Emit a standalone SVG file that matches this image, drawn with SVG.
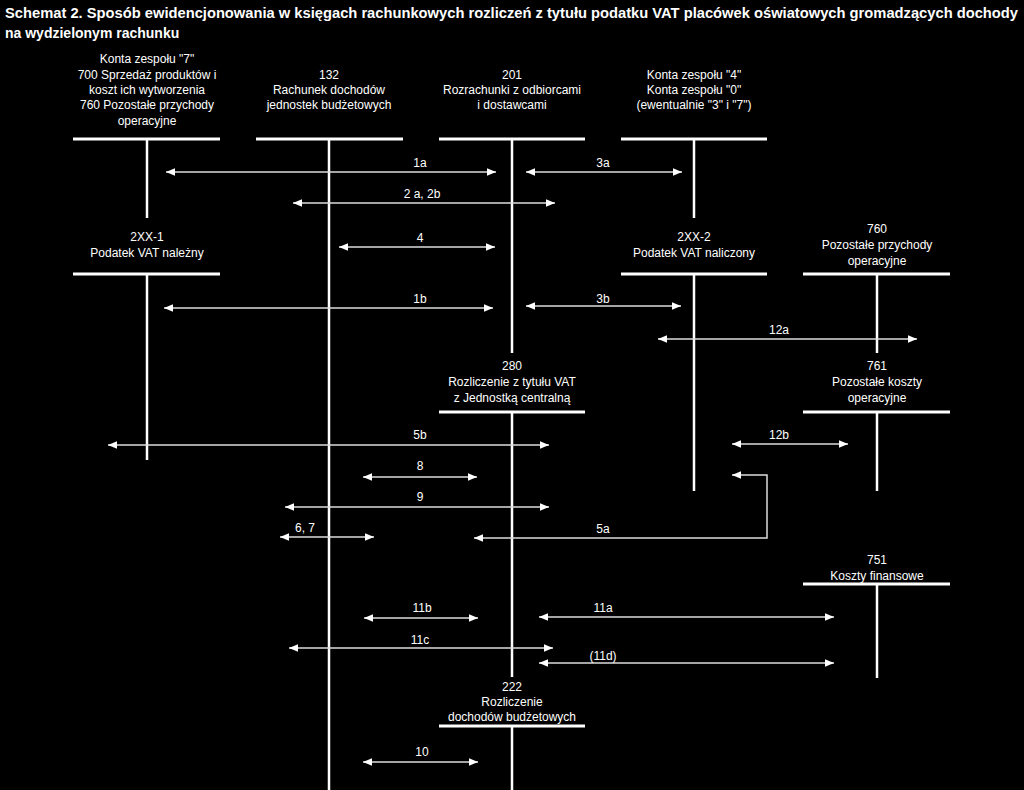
<svg xmlns="http://www.w3.org/2000/svg" width="1024" height="790" viewBox="0 0 1024 790">
<style>
text{font-family:"Liberation Sans",Arial,sans-serif;fill:#fff;font-size:12px;text-anchor:middle}
.title{font-size:14px;font-weight:bold;text-anchor:start}
.hl{stroke:#fff;stroke-width:3;fill:none}
.st{stroke:#fff;stroke-width:2.5;fill:none}
.ar{stroke:#dcdcdc;stroke-width:1.5;fill:none;marker-start:url(#hs);marker-end:url(#he)}
.ar1{stroke:#dcdcdc;stroke-width:1.5;fill:none;marker-end:url(#he)}
.ar0{stroke:#dcdcdc;stroke-width:1.5;fill:none;marker-start:url(#hs)}
</style>
<defs>
<marker id="he" markerUnits="userSpaceOnUse" markerWidth="10" markerHeight="10" refX="9" refY="5" orient="auto"><path d="M0,1.3 L9,5 L0,8.7 Z" fill="#fff"/></marker>
<marker id="hs" markerUnits="userSpaceOnUse" markerWidth="10" markerHeight="10" refX="1" refY="5" orient="auto"><path d="M10,1.3 L1,5 L10,8.7 Z" fill="#fff"/></marker>
</defs>
<rect width="1024" height="790" fill="#000"/>
<text class="title" x="5" y="18" textLength="1013" lengthAdjust="spacingAndGlyphs">Schemat 2. Sposób ewidencjonowania w księgach rachunkowych rozliczeń z tytułu podatku VAT placówek oświatowych gromadzących dochody</text>
<text class="title" x="5" y="38">na wydzielonym rachunku</text>

<g id="n700">
<text x="147" y="63">Konta zespołu "7"</text>
<text x="147" y="79">700 Sprzedaż produktów i</text>
<text x="147" y="94">koszt ich wytworzenia</text>
<text x="147" y="109">760 Pozostałe przychody</text>
<text x="147" y="125">operacyjne</text>
<line class="hl" x1="73" y1="139" x2="220" y2="139"/>
<line class="st" x1="147" y1="139" x2="147" y2="218"/>
</g>
<g id="n132">
<text x="329" y="79">132</text>
<text x="329" y="94">Rachunek dochodów</text>
<text x="329" y="109">jednostek budżetowych</text>
<line class="hl" x1="256" y1="139" x2="403" y2="139"/>
<line class="st" x1="329" y1="139" x2="329" y2="790"/>
</g>
<g id="n201">
<text x="512" y="79">201</text>
<text x="512" y="94">Rozrachunki z odbiorcami</text>
<text x="512" y="109">i dostawcami</text>
<line class="hl" x1="439" y1="139" x2="585" y2="139"/>
<line class="st" x1="512" y1="139" x2="512" y2="353"/>
</g>
<g id="n4">
<text x="694" y="79">Konta zespołu "4"</text>
<text x="694" y="94">Konta zespołu "0"</text>
<text x="694" y="109">(ewentualnie "3" i "7")</text>
<line class="hl" x1="621" y1="139" x2="767" y2="139"/>
<line class="st" x1="694" y1="139" x2="694" y2="218"/>
</g>
<g id="n2xx1">
<text x="147" y="241">2XX-1</text>
<text x="147" y="257">Podatek VAT należny</text>
<line class="hl" x1="73" y1="274" x2="220" y2="274"/>
<line class="st" x1="147" y1="274" x2="147" y2="460"/>
</g>
<g id="n2xx2">
<text x="694" y="241">2XX-2</text>
<text x="694" y="257">Podatek VAT naliczony</text>
<line class="hl" x1="621" y1="274" x2="767" y2="274"/>
<line class="st" x1="694" y1="274" x2="694" y2="491"/>
</g>
<g id="n760">
<text x="877" y="233">760</text>
<text x="877" y="249">Pozostałe przychody</text>
<text x="877" y="265">operacyjne</text>
<line class="hl" x1="803" y1="274" x2="950" y2="274"/>
<line class="st" x1="877" y1="274" x2="877" y2="353"/>
</g>
<g id="n280">
<text x="512" y="370">280</text>
<text x="512" y="386">Rozliczenie z tytułu VAT</text>
<text x="512" y="402">z Jednostką centralną</text>
<line class="hl" x1="439" y1="412" x2="585" y2="412"/>
<line class="st" x1="512" y1="412" x2="512" y2="677"/>
</g>
<g id="n761">
<text x="877" y="370">761</text>
<text x="877" y="386">Pozostałe koszty</text>
<text x="877" y="402">operacyjne</text>
<line class="hl" x1="803" y1="412" x2="950" y2="412"/>
<line class="st" x1="877" y1="412" x2="877" y2="491"/>
</g>
<g id="n751">
<text x="877" y="564">751</text>
<text x="877" y="580">Koszty finansowe</text>
<line class="hl" x1="803" y1="584" x2="950" y2="584"/>
<line class="st" x1="877" y1="584" x2="877" y2="678"/>
</g>
<g id="n222">
<text x="512" y="691">222</text>
<text x="512" y="706">Rozliczenie</text>
<text x="512" y="721">dochodów budżetowych</text>
<line class="hl" x1="439" y1="726" x2="585" y2="726"/>
<line class="st" x1="512" y1="726" x2="512" y2="790"/>
</g>

<g id="connectors">
<line class="ar" x1="166" y1="172" x2="496" y2="172"/>
<line class="ar" x1="526" y1="172" x2="682" y2="172"/>
<line class="ar" x1="293" y1="203" x2="555" y2="203"/>
<line class="ar" x1="339" y1="247" x2="495" y2="247"/>
<line class="ar" x1="164" y1="308" x2="493" y2="308"/>
<line class="ar" x1="526" y1="306" x2="681" y2="306"/>
<line class="ar" x1="658" y1="339" x2="917" y2="339"/>
<line class="ar" x1="108" y1="445" x2="549" y2="445"/>
<line class="ar" x1="732" y1="444" x2="848" y2="444"/>
<line class="ar" x1="363" y1="477" x2="477" y2="477"/>
<line class="ar" x1="285" y1="507" x2="549" y2="507"/>
<line class="ar" x1="280" y1="537" x2="374" y2="537"/>
<polyline class="ar" points="474,538 767,538 767,475 732,475"/>
<line class="ar" x1="364" y1="618" x2="478" y2="618"/>
<line class="ar" x1="539" y1="617" x2="834" y2="617"/>
<line class="ar" x1="289" y1="648" x2="553" y2="648"/>
<line class="ar" x1="539" y1="663" x2="834" y2="663"/>
<line class="ar" x1="363" y1="762" x2="478" y2="762"/>
<text x="420" y="167">1a</text>
<text x="603" y="167">3a</text>
<text x="422" y="198">2 a, 2b</text>
<text x="420" y="242">4</text>
<text x="420" y="303">1b</text>
<text x="603" y="303">3b</text>
<text x="779" y="334">12a</text>
<text x="420" y="439">5b</text>
<text x="779" y="439">12b</text>
<text x="420" y="470">8</text>
<text x="420" y="501">9</text>
<text x="305" y="532">6, 7</text>
<text x="603" y="533">5a</text>
<text x="422" y="612">11b</text>
<text x="603" y="612">11a</text>
<text x="420" y="644">11c</text>
<text x="603" y="660">(11d)</text>
<text x="422" y="756">10</text>
</g>
</svg>
